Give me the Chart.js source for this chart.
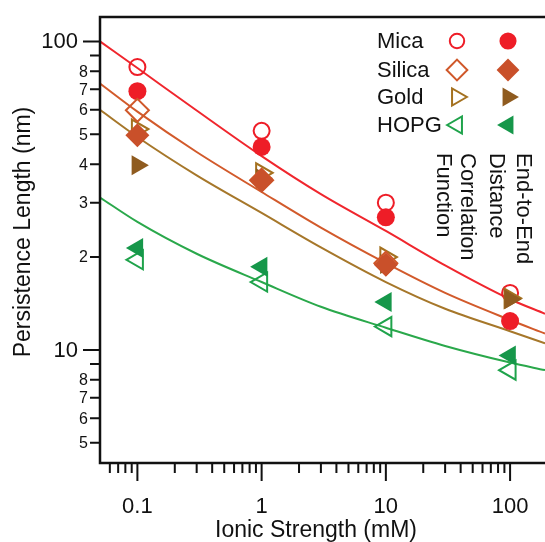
<!DOCTYPE html>
<html>
<head>
<meta charset="utf-8">
<script src="https://cdn.jsdelivr.net/npm/chart.js@4.4.0/dist/chart.umd.min.js"></script>
<style>
  body { margin: 0; background: #fff; }
  canvas { display: block; }
</style>
</head>
<body>
<canvas id="chart" width="545" height="542"></canvas>
<script>
// measured persistence lengths (nm) vs ionic strength (mM)
const ionic = [0.1, 1, 10, 100]
const micaCorr = [82.6, 51.3, 30, 15.3]
const micaE2E = [69, 45.5, 26.9, 12.4]
const silicaCorr = [59.8, 35.5, 19.1, null]
const silicaE2E = [49.6, 35.5, 18.9, null]
const goldCorr = [52, 37.5, 20, 14.7]
const goldE2E = [39.7, 36, 19, 14.6]
const hopgCorr = [19.6, 16.6, 11.9, 8.6]
const hopgE2E = [21.4, 18.6, 14.3, 9.6]

// fitted curves at these ionic strengths
const fitX = [0.05, 0.1, 0.3, 1, 3, 10, 30, 100, 191]
const micaFit = [100, 82, 59.7, 42.5, 32, 24.3, 18.8, 14.6, 13.1]
const silicaFit = [73, 59.2, 43.8, 32.5, 24.9, 19.1, 15.3, 12.5, 11.3]
const goldFit = [60, 49, 36.8, 27.8, 21.5, 16.6, 13.6, 11.5, 10.5]
const hopgFit = [31.2, 26, 20.5, 16.6, 13.8, 11.8, 10.3, 9.1, 8.6]

// axis ticks
const xMajor = [0.1, 1, 10, 100]
const xMinor = [0.06, 0.07, 0.08, 0.09, 0.2, 0.3, 0.4, 0.5, 0.6, 0.7, 0.8, 0.9,
  2, 3, 4, 5, 6, 7, 8, 9, 20, 30, 40, 50, 60, 70, 80, 90]
const xMajorLabels = ['0.1', '1', '10', '100']
const yMajor = [10, 100]
const yMajorLabels = ['10', '100']
const yMinor = [5, 6, 7, 8, 9, 20, 30, 40, 50, 60, 70, 80, 90]
const yMinorLabels = ['5', '6', '7', '8', '', '2', '3', '4', '5', '6', '7', '8', '']

const surfaces = ['Mica', 'Silica', 'Gold', 'HOPG']

const RED = '#ee1d27', ORANGE = '#c9502a', BROWN = '#8f5b1f', GREEN = '#16974a'
const FONT = '"Liberation Sans", Arial, sans-serif'

const pts = (xs, ys) => xs.map((x, i) => ({ x: x, y: ys[i] })).filter(p => p.y != null)

// marker styles: [open, filled] for each surface
const markers = {
  Mica: [{ pointStyle: 'circle', radius: 8, rotation: 0, color: RED }, { pointStyle: 'circle', radius: 9, rotation: 0, color: RED }],
  Silica: [{ pointStyle: 'rectRot', radius: 11.5, rotation: 0, color: '#d0582a' }, { pointStyle: 'rectRot', radius: 12, rotation: 0, color: ORANGE }],
  Gold: [{ pointStyle: 'triangle', radius: 11, rotation: 90, color: '#a4711f' }, { pointStyle: 'triangle', radius: 11.5, rotation: 90, color: BROWN }],
  HOPG: [{ pointStyle: 'triangle', radius: 11, rotation: -90, color: '#1fa34b' }, { pointStyle: 'triangle', radius: 11.5, rotation: -90, color: GREEN }]
}

function markerSet(data, m, filled, order) {
  return {
    data: data,
    order: order,
    pointStyle: m.pointStyle,
    pointRadius: m.radius,
    pointRotation: m.rotation,
    pointBackgroundColor: filled ? m.color : 'rgba(255,255,255,0)',
    pointBorderColor: m.color,
    pointBorderWidth: filled ? 0 : 2,
    showLine: false
  }
}

function fitSet(data, color) {
  return {
    data: data,
    order: 100,
    showLine: true,
    borderColor: color,
    borderWidth: 2,
    pointRadius: 0,
    cubicInterpolationMode: 'monotone'
  }
}

// axes, ticks, labels and legend drawn on top of the library's scales
const frame = {
  id: 'frame',
  afterDraw(chart) {
    const { ctx, chartArea: a } = chart
    const x = chart.scales.x, y = chart.scales.y
    ctx.save()
    ctx.strokeStyle = '#111'
    ctx.fillStyle = '#111'
    ctx.lineWidth = 2.5
    ctx.beginPath()
    ctx.moveTo(a.right, a.top)
    ctx.lineTo(a.left, a.top)
    ctx.lineTo(a.left, a.bottom)
    ctx.lineTo(a.right, a.bottom)
    ctx.stroke()

    ctx.lineWidth = 2
    ctx.beginPath()
    xMajor.forEach(v => { const px = x.getPixelForValue(v); ctx.moveTo(px, a.bottom); ctx.lineTo(px, a.bottom + 18) })
    xMinor.forEach(v => { const px = x.getPixelForValue(v); ctx.moveTo(px, a.bottom); ctx.lineTo(px, a.bottom + 10) })
    yMajor.forEach(v => { const py = y.getPixelForValue(v); ctx.moveTo(a.left, py); ctx.lineTo(a.left - 17, py) })
    yMinor.forEach(v => { const py = y.getPixelForValue(v); ctx.moveTo(a.left, py); ctx.lineTo(a.left - 10, py) })
    ctx.stroke()

    ctx.textBaseline = 'middle'
    ctx.textAlign = 'center'
    ctx.font = '22px ' + FONT
    xMajor.forEach((v, i) => ctx.fillText(xMajorLabels[i], x.getPixelForValue(v), a.bottom + 44))
    ctx.textAlign = 'right'
    yMajor.forEach((v, i) => ctx.fillText(yMajorLabels[i], a.left - 22, y.getPixelForValue(v) + 1))
    ctx.font = '16px ' + FONT
    yMinor.forEach((v, i) => ctx.fillText(yMinorLabels[i], a.left - 12, y.getPixelForValue(v) + 1))

    // axis titles
    ctx.font = '23px ' + FONT
    ctx.textAlign = 'center'
    ctx.textBaseline = 'alphabetic'
    ctx.fillText('Ionic Strength (mM)', 316, 537)
    ctx.save()
    ctx.translate(30, 232)
    ctx.rotate(-Math.PI / 2)
    ctx.fillText('Persistence Length (nm)', 0, 0)
    ctx.restore()

    // legend
    const rows = [41, 70, 97, 125]
    ctx.font = '22px ' + FONT
    ctx.textAlign = 'left'
    ctx.textBaseline = 'middle'
    surfaces.forEach((s, i) => {
      ctx.fillStyle = '#111'
      ctx.fillText(s, 377, rows[i] + 1)
      const [open, full] = markers[s]
      ctx.fillStyle = 'rgba(255,255,255,0)'
      ctx.strokeStyle = open.color
      ctx.lineWidth = 2
      Chart.helpers.drawPoint(ctx, { pointStyle: open.pointStyle, rotation: open.rotation, radius: open.radius * 0.9, borderWidth: 2 }, 457, rows[i])
      ctx.fillStyle = full.color
      Chart.helpers.drawPoint(ctx, { pointStyle: full.pointStyle, rotation: full.rotation, radius: full.radius * 0.95, borderWidth: 0 }, 508, rows[i])
    })

    // rotated method labels
    ctx.fillStyle = '#111'
    const methodLines = [['End-to-End', 517], ['Distance', 490], ['Correlation', 461], ['Function', 437]]
    methodLines.forEach(([t, bx]) => {
      ctx.save()
      ctx.translate(bx, 153)
      ctx.rotate(Math.PI / 2)
      ctx.textBaseline = 'alphabetic'
      ctx.fillText(t, 0, 0)
      ctx.restore()
    })
    ctx.restore()
  }
}

new Chart(document.getElementById('chart'), {
  type: 'scatter',
  data: {
    datasets: [
      fitSet(pts(fitX, micaFit), '#f0262d'),
      fitSet(pts(fitX, silicaFit), '#d25a2b'),
      fitSet(pts(fitX, goldFit), '#a6772a'),
      fitSet(pts(fitX, hopgFit), '#2aa84b'),
      markerSet(pts(ionic, hopgCorr), markers.HOPG[0], false, 20),
      markerSet(pts(ionic, hopgE2E), markers.HOPG[1], true, 19),
      markerSet(pts(ionic, micaCorr), markers.Mica[0], false, 18),
      markerSet(pts(ionic, micaE2E), markers.Mica[1], true, 17),
      markerSet(pts(ionic, goldCorr), markers.Gold[0], false, 16),
      markerSet(pts(ionic, goldE2E), markers.Gold[1], true, 15),
      markerSet(pts(ionic, silicaCorr), markers.Silica[0], false, 14),
      markerSet(pts(ionic, silicaE2E), markers.Silica[1], true, 13)
    ]
  },
  options: {
    responsive: false,
    animation: false,
    events: [],
    layout: { autoPadding: false, padding: { left: 100, top: 17, right: 0, bottom: 79 } },
    scales: {
      x: { type: 'logarithmic', min: 0.05, max: 191, display: false },
      y: { type: 'logarithmic', min: 4.3, max: 120, display: false }
    },
    plugins: { legend: { display: false }, tooltip: { enabled: false } }
  },
  plugins: [frame]
})
</script>
</body>
</html>
